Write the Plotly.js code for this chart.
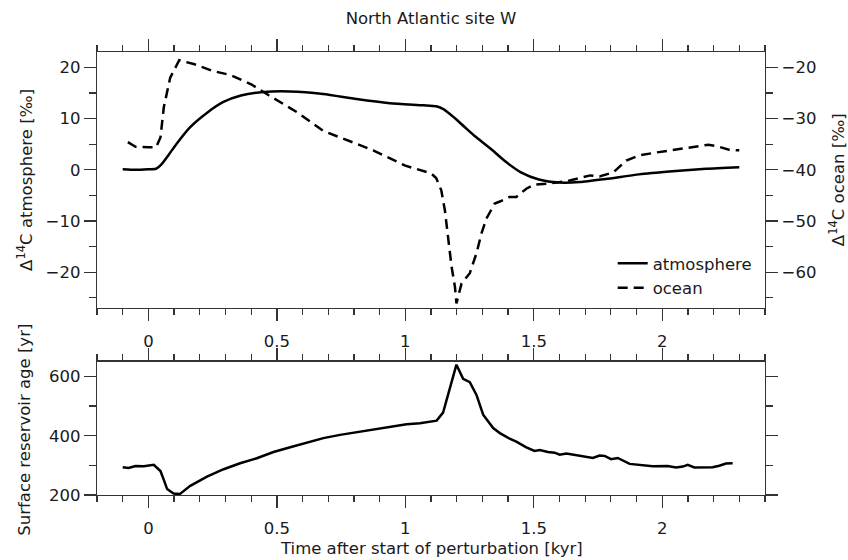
<!DOCTYPE html>
<html>
<head>
<meta charset="utf-8">
<script src="https://cdn.plot.ly/plotly-3.0.1.min.js"></script>
<style>html,body{margin:0;padding:0;background:#fff;}#chart{width:848px;height:560px;}</style>
</head>
<body>
<div id="chart"></div>
<script>
// Top panel: atmosphere Δ14C (left axis, ‰)
var atmTime = [-0.10,-0.05,0.00,0.03,0.05,0.08,0.11,0.16,0.23,0.29,0.36,0.45,0.55,0.68,0.81,0.94,1.07,1.12,1.15,1.19,1.23,1.27,1.33,1.39,1.45,1.52,1.60,1.68,1.78,1.91,2.04,2.17,2.30];
var atmD14C = [0.1,0.0,0.1,0.2,1.0,3.0,5.1,8.2,11.2,13.2,14.5,15.2,15.3,14.8,13.8,13.0,12.6,12.4,11.8,10.2,8.4,6.6,4.2,1.6,-0.5,-1.9,-2.5,-2.4,-1.8,-0.9,-0.3,0.2,0.5];

// Top panel: ocean Δ14C (right axis, ‰)
var ocnTime = [-0.08,-0.05,0.00,0.03,0.047,0.06,0.085,0.12,0.18,0.25,0.32,0.40,0.47,0.58,0.68,0.76,0.875,1.00,1.06,1.10,1.12,1.14,1.154,1.167,1.18,1.193,1.199,1.219,1.251,1.277,1.296,1.316,1.348,1.368,1.406,1.432,1.471,1.503,1.56,1.64,1.72,1.756,1.81,1.86,1.91,1.98,2.07,2.13,2.18,2.22,2.26,2.30];
var ocnD14C = [-34.6,-35.5,-35.6,-35.6,-33.7,-27.8,-22.0,-18.6,-19.4,-20.7,-21.5,-23.3,-25.5,-28.8,-32.4,-34.0,-36.2,-39.2,-40.1,-40.7,-41.6,-44.0,-47.9,-53.8,-58.9,-62.8,-66.1,-62.2,-60.2,-56.3,-52.5,-49.5,-46.6,-46.2,-45.3,-45.3,-43.7,-42.9,-42.7,-42.1,-41.1,-41.3,-40.5,-38.2,-37.2,-36.6,-35.9,-35.5,-35.1,-35.5,-36.1,-36.2];

// Bottom panel: surface reservoir age (yr)
var ageTime = [-0.10,-0.077,-0.05,-0.018,0.021,0.047,0.060,0.073,0.098,0.122,0.163,0.228,0.293,0.357,0.422,0.487,0.552,0.617,0.681,0.746,0.811,0.875,0.940,1.005,1.057,1.096,1.122,1.147,1.173,1.199,1.225,1.251,1.277,1.303,1.342,1.368,1.406,1.432,1.471,1.503,1.523,1.555,1.581,1.601,1.627,1.666,1.704,1.730,1.756,1.776,1.801,1.827,1.873,1.924,1.963,2.021,2.054,2.080,2.099,2.125,2.196,2.222,2.248,2.274];
var ageYears = [294,291,298,297,302,281,251,220,205,203,231,262,287,307,324,345,361,377,392,403,412,422,431,439,442,446,451,478,561,640,592,581,538,471,426,409,390,380,361,349,352,345,343,336,340,335,329,325,333,332,321,325,305,299,297,298,293,296,302,293,294,299,306,307];

var xTickVals = [0, 0.5, 1, 1.5, 2];
var xTickText = ['0', '0.5', '1', '1.5', '2'];

var axisColor = '#333';
var FONT = 'DejaVu Sans, Liberation Sans, Arial, sans-serif';
var FS = 16.5;
var TXT = '#1a1a1a';

var traces = [
  {x: atmTime, y: atmD14C, xaxis: 'x', yaxis: 'y', mode: 'lines', name: 'atmosphere',
   line: {color: '#000', width: 2.5, shape: 'spline', smoothing: 0.6}},
  {x: ocnTime, y: ocnD14C, xaxis: 'x', yaxis: 'y2', mode: 'lines', name: 'ocean',
   line: {color: '#000', width: 2.5, dash: '10px,6px'}},
  {x: ageTime, y: ageYears, xaxis: 'x2', yaxis: 'y3', mode: 'lines', name: 'age', showlegend: false,
   line: {color: '#000', width: 2.5}},
  // empty traces so the mirror-tick overlay axes are created
  {x: [], y: [], xaxis: 'x3', yaxis: 'y', showlegend: false, hoverinfo: 'skip'},
  {x: [], y: [], xaxis: 'x4', yaxis: 'y3', showlegend: false, hoverinfo: 'skip'},
  {x: [], y: [], xaxis: 'x2', yaxis: 'y4', showlegend: false, hoverinfo: 'skip'}
];

function tickStyle(extra) {
  var o = {
    ticks: 'outside', ticklen: 12, tickwidth: 1.3, tickcolor: axisColor,
    showline: true, linecolor: axisColor, linewidth: 1.3,
    showgrid: false, zeroline: false,
    tickfont: {family: FONT, size: FS, color: TXT}
  };
  for (var k in extra) o[k] = extra[k];
  return o;
}

function xAxis(extra) {
  var base = tickStyle({
    domain: [0, 1], range: [-0.2, 2.4],
    tickvals: xTickVals, ticktext: xTickText, ticklabelstandoff: 6,
    minor: {dtick: 0.1, tick0: 0, ticks: 'outside', ticklen: 6, tickwidth: 1.3, tickcolor: axisColor}
  });
  for (var k in extra) base[k] = extra[k];
  return base;
}

var layout = {
  width: 848, height: 560,
  paper_bgcolor: '#fff', plot_bgcolor: '#fff',
  margin: {l: 97, r: 83, t: 52, b: 65},
  font: {family: FONT, size: FS, color: TXT},
  title: {text: 'North Atlantic site W', x: 0.5, xref: 'paper', y: 1 - 18/560, yanchor: 'middle',
          font: {family: FONT, size: FS, color: TXT}},
  showlegend: true,
  legend: {x: 0.772, xanchor: 'left', y: 0.562, yanchor: 'top', bgcolor: 'rgba(0,0,0,0)',
           font: {family: FONT, size: FS, color: TXT}},
  xaxis: xAxis({anchor: 'y', mirror: false}),
  xaxis2: xAxis({anchor: 'y3', mirror: false}),
  xaxis3: xAxis({anchor: 'y', overlaying: 'x', side: 'top', showticklabels: false}),
  xaxis4: xAxis({anchor: 'y3', overlaying: 'x2', side: 'top', showticklabels: false}),
  yaxis: tickStyle({
    anchor: 'x', domain: [0.4221, 1], range: [-27, 23],
    dtick: 10, tick0: 0,
    minor: {dtick: 5, tick0: 0, ticks: 'outside', ticklen: 7, tickwidth: 1.3, tickcolor: axisColor}
  }),
  yaxis2: tickStyle({
    anchor: 'x', overlaying: 'y', side: 'right', range: [-67, -17],
    dtick: 10, tick0: 0,
    minor: {dtick: 5, tick0: 0, ticks: 'outside', ticklen: 7, tickwidth: 1.3, tickcolor: axisColor}
  }),
  yaxis3: tickStyle({
    anchor: 'x2', domain: [0, 0.3009], range: [200, 650],
    dtick: 200, tick0: 200,
    minor: {dtick: 100, tick0: 200, ticks: 'outside', ticklen: 7, tickwidth: 1.3, tickcolor: axisColor}
  }),
  yaxis4: tickStyle({
    anchor: 'x2', overlaying: 'y3', side: 'right', range: [200, 650],
    dtick: 200, tick0: 200, showticklabels: false,
    minor: {dtick: 100, tick0: 200, ticks: 'outside', ticklen: 7, tickwidth: 1.3, tickcolor: axisColor}
  }),
  annotations: [
    {text: 'Δ<sup>14</sup>C atmosphere [‰]', xref: 'paper', yref: 'paper', x: -0.108, y: 0.711,
     xanchor: 'center', yanchor: 'middle', textangle: -90, showarrow: false,
     font: {family: FONT, size: FS, color: TXT}},
    {text: 'Δ<sup>14</sup>C ocean [‰]', xref: 'paper', yref: 'paper', x: 1.108, y: 0.711,
     xanchor: 'center', yanchor: 'middle', textangle: -90, showarrow: false,
     font: {family: FONT, size: FS, color: TXT}},
    {text: 'Surface reservoir age [yr]', xref: 'paper', yref: 'paper', x: -0.108, y: 0.147,
     xanchor: 'center', yanchor: 'middle', textangle: -90, showarrow: false,
     font: {family: FONT, size: FS, color: TXT}},
    {text: 'Time after start of perturbation [kyr]', xref: 'paper', yref: 'paper', x: 0.5, y: -0.12,
     xanchor: 'center', yanchor: 'middle', showarrow: false,
     font: {family: FONT, size: FS, color: TXT}}
  ]
};

Plotly.newPlot('chart', traces, layout, {staticPlot: true, displayModeBar: false});
</script>
</body>
</html>
